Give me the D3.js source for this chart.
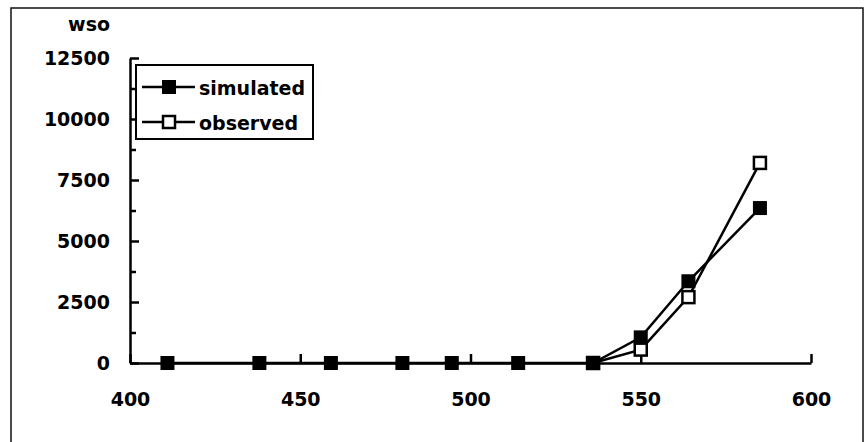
<!DOCTYPE html>
<html>
<head>
<meta charset="utf-8">
<script src="https://cdn.jsdelivr.net/npm/d3@7"></script>
<style>
  html, body { margin: 0; padding: 0; background: #fff; }
  svg { display: block; }
  text { font-family: "DejaVu Sans", sans-serif; font-weight: bold; fill: #000; }
</style>
</head>
<body>
<svg id="chart" width="865" height="442"></svg>
<script>
// Storage-organ weight (wso) against time
const simDays = [411, 438, 459, 480, 494.5, 514, 536, 550, 564, 585];
const simValues = [0, 0, 0, 0, 0, 0, 0, 1050, 3350, 6350];
const obsDays = [536, 550, 564, 585];
const obsValues = [0, 550, 2700, 8200];
const xTicks = [400, 450, 500, 550, 600];
const yTicks = [0, 2500, 5000, 7500, 10000, 12500];
const yMinorTicks = [1250, 3750, 6250, 8750, 11250];
const seriesNames = ["simulated", "observed"];
const yTitle = "wso";

const svg = d3.select("#chart");

// outer frame
svg.append("rect")
  .attr("x", 11).attr("y", 8).attr("width", 852).attr("height", 460)
  .attr("fill", "none").attr("stroke", "#111").attr("stroke-width", 1.5);

const x = d3.scaleLinear().domain([400, 600]).range([130, 811]);
const y = d3.scaleLinear().domain([0, 12500]).range([363, 58]);
const fmt = d3.format("d");

// y axis: ticks point inward
svg.append("g").attr("transform", `translate(${x(400)},0)`)
  .call(d3.axisLeft(y).tickValues(yTicks).tickFormat(fmt).tickSizeInner(-9).tickSizeOuter(0).tickPadding(20));
svg.append("g").attr("transform", `translate(${x(400)},0)`)
  .call(d3.axisLeft(y).tickValues(yMinorTicks).tickSizeInner(-6).tickSizeOuter(0).tickFormat(""))
  .call(g => g.select(".domain").remove());

// x axis
svg.append("g").attr("transform", `translate(0,${y(0)})`)
  .call(d3.axisBottom(x).tickValues(xTicks).tickFormat(fmt).tickSizeInner(-9).tickSizeOuter(0).tickPadding(30));

svg.selectAll(".tick line, .domain").attr("stroke", "#000").attr("stroke-width", 2.5);
svg.selectAll(".tick text").style("font-size", "19px").style("font-family", "DejaVu Sans, sans-serif").style("font-weight", "bold");

// axis title
svg.append("text").attr("x", 110).attr("y", 31).attr("text-anchor", "end")
  .style("font-size", "19px").text(yTitle);

const line = d3.line().x(d => x(d[0])).y(d => y(d[1]));
const obs = obsDays.map((d, i) => [d, obsValues[i]]);
const sim = simDays.map((d, i) => [d, simValues[i]]);
const ms = 14;

// observed series (drawn first, simulated sits on top)
svg.append("path").datum(obs).attr("d", line)
  .attr("fill", "none").attr("stroke", "#000").attr("stroke-width", 2.5);
svg.append("path").datum(sim).attr("d", line)
  .attr("fill", "none").attr("stroke", "#000").attr("stroke-width", 2.5);
svg.selectAll(".obs").data(obs).enter().append("rect")
  .attr("x", d => x(d[0]) - ms / 2 + 1).attr("y", d => y(d[1]) - ms / 2 + 1)
  .attr("width", ms - 2).attr("height", ms - 2)
  .attr("fill", "#fff").attr("stroke", "#000").attr("stroke-width", 2.5);
svg.selectAll(".sim").data(sim).enter().append("rect")
  .attr("x", d => x(d[0]) - ms / 2).attr("y", d => y(d[1]) - ms / 2)
  .attr("width", ms).attr("height", ms).attr("fill", "#000");

// legend
const lg = svg.append("g");
lg.append("rect").attr("x", 136).attr("y", 65).attr("width", 177).attr("height", 74)
  .attr("fill", "#fff").attr("stroke", "#000").attr("stroke-width", 2);
seriesNames.forEach((name, i) => {
  const cy = 87 + i * 35;
  lg.append("line").attr("x1", 142).attr("x2", 195).attr("y1", cy).attr("y2", cy)
    .attr("stroke", "#000").attr("stroke-width", 2.5);
  if (i === 0) {
    lg.append("rect").attr("x", 162).attr("y", cy - 7).attr("width", 14).attr("height", 14).attr("fill", "#000");
  } else {
    lg.append("rect").attr("x", 163).attr("y", cy - 6).attr("width", 12).attr("height", 12)
      .attr("fill", "#fff").attr("stroke", "#000").attr("stroke-width", 2.5);
  }
  lg.append("text").attr("x", 199).attr("y", cy + 8).style("font-size", "19px").text(name);
});
</script>
</body>
</html>
